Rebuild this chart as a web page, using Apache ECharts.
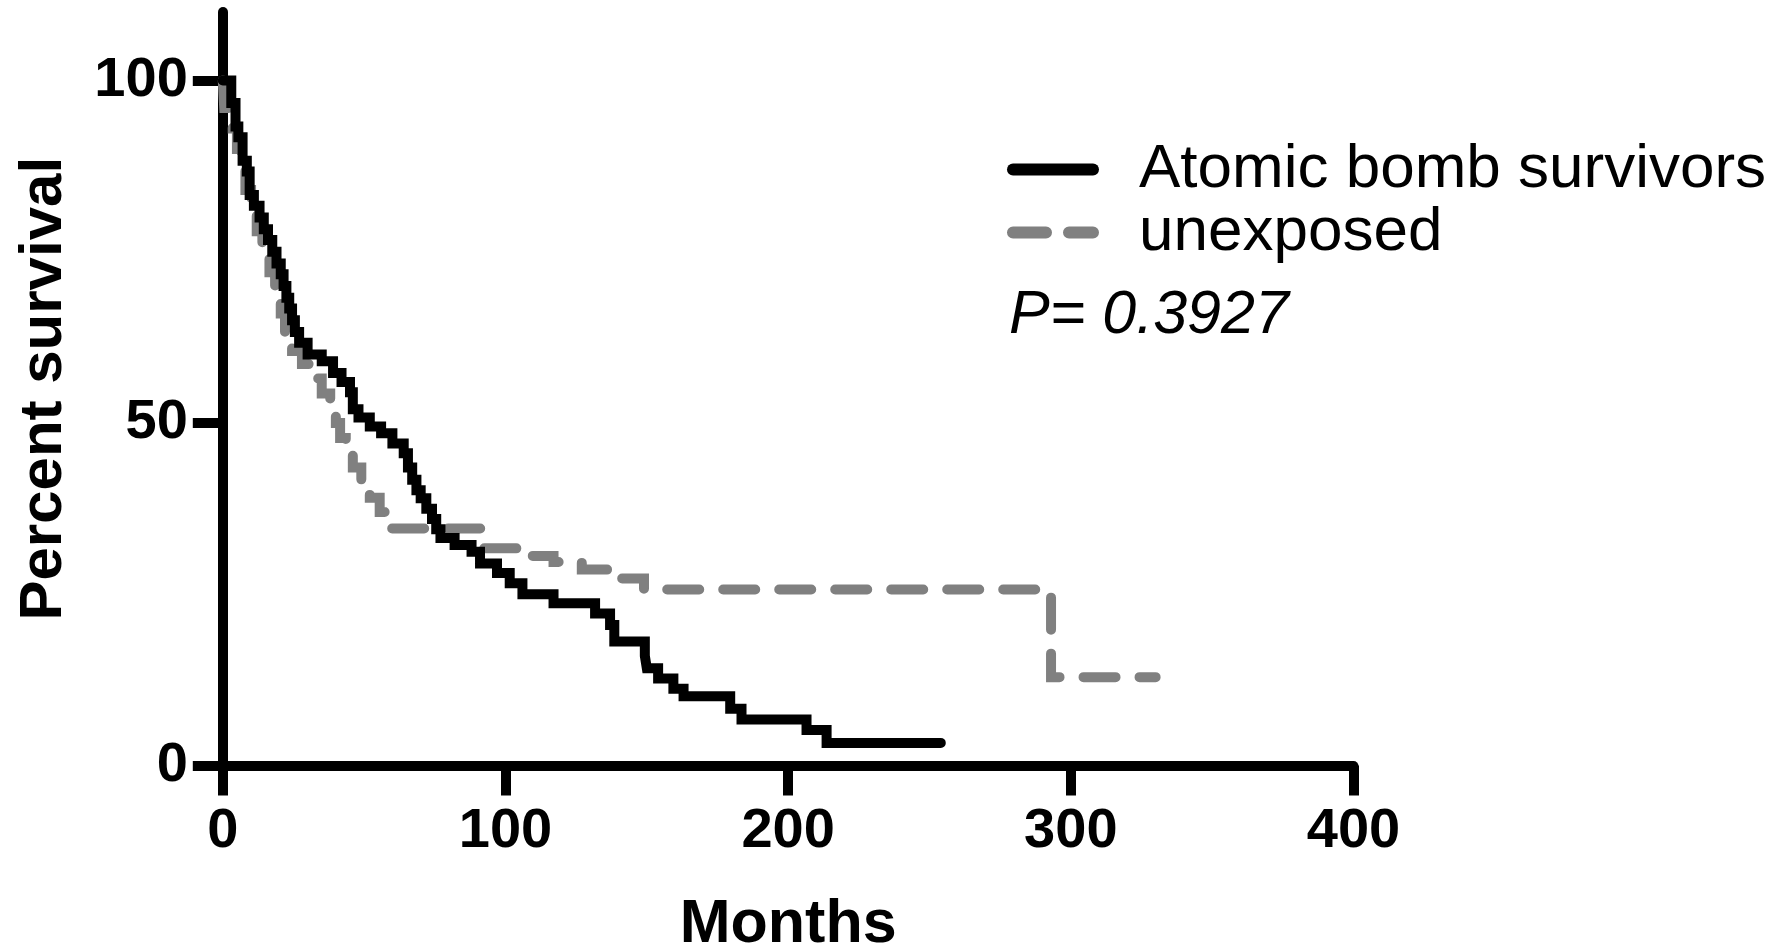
<!DOCTYPE html>
<html>
<head>
<meta charset="utf-8">
<title>Survival by exposure</title>
<script src="https://cdn.jsdelivr.net/npm/echarts@6/dist/echarts.min.js"></script>
<style>
  html, body { margin: 0; padding: 0; background: #ffffff; }
  #chart { width: 1773px; height: 952px; }
</style>
</head>
<body>
<div id="chart"></div>
<script>
// Kaplan-Meier estimates: month of each drop and percent surviving after it
const survivorMonths = [0, 3, 4.5, 5.5, 7, 8.5, 9.5, 11, 13, 14.5, 16, 17.5, 19, 20.5, 21.5, 22.5, 23.5, 24.5, 25.5, 27, 30, 35, 39, 42, 45, 46, 48, 52, 56, 60, 64, 65.5, 67, 68.5, 70, 72, 74, 75.5, 77, 82, 88, 91, 97, 101.5, 106, 117, 131.7, 137, 138.5, 149.3, 150, 154, 159.4, 163, 179.5, 183.5, 206.5, 213.6, 254];
const survivorPercent = [100, 96.7, 93.3, 91.7, 88.3, 86.7, 83.3, 81.7, 80, 78.3, 76.7, 75, 73.3, 71.7, 70, 68.3, 66.7, 65, 63.3, 61.7, 60, 59, 57.3, 56, 54.5, 52, 50.8, 49.5, 48.5, 47, 45.6, 43.5, 41.7, 40.2, 39, 37.5, 36, 34.5, 33.2, 32.2, 31.2, 29.5, 28.1, 26.6, 25, 23.7, 22.2, 20.5, 18.1, 16, 14.2, 12.7, 11.2, 10.1, 8.3, 6.7, 5.2, 3.3, 3.3];

const unexposedMonths = [0, 0.5, 3.5, 5, 6.5, 8, 10, 12, 14, 16.5, 18.5, 20.5, 22, 24.5, 28, 32, 35, 38, 40, 41.5, 43.5, 46, 49, 52, 55.5, 59, 92, 106, 117, 127, 137, 149, 293, 330];
const unexposedPercent = [100, 96, 93, 90, 87, 84, 81, 78, 75, 72, 69, 66, 63, 60.5, 58.6, 56.5, 54.3, 52.2, 50, 47.8, 45.6, 43.5, 41.3, 39.1, 37, 34.6, 31.7, 30.6, 29.7, 28.6, 27.3, 25.7, 12.9, 12.9];

const seriesNames = ['Atomic bomb survivors', 'unexposed'];
const yTickValues = [0, 50, 100];
const pValueText = 'P= 0.3927';

const FONT = '"Liberation Sans", Arial, Helvetica, sans-serif';

// Legend swatches: a solid rounded bar and two rounded dashes
const SOLID_ICON = 'path://M6,0 H86 A6,6 0 0 1 86,12 H6 A6,6 0 0 1 6,0 Z';
const DASHED_ICON = 'path://M6,0 H39 A6,6 0 0 1 39,12 H6 A6,6 0 0 1 6,0 Z M62,0 H86 A6,6 0 0 1 86,12 H62 A6,6 0 0 1 62,0 Z';

const toPairs = (xs, ys) => xs.map((x, i) => [x, ys[i]]);

const chart = echarts.init(document.getElementById('chart'), null, { renderer: 'canvas' });

chart.setOption({
  backgroundColor: '#ffffff',
  animation: false,
  grid: {
    left: 222.8,
    right: 419.5,
    top: 12,
    bottom: 186.5,
    containLabel: false,
    outerBoundsMode: 'none'
  },
  xAxis: {
    type: 'value',
    min: 0,
    max: 400,
    interval: 100,
    name: 'Months',
    nameLocation: 'middle',
    nameGap: 129,
    nameTextStyle: { fontFamily: FONT, fontWeight: 'bold', fontSize: 61, color: '#000' },
    axisLine: { show: true, onZero: false, lineStyle: { color: '#000', width: 10 } },
    axisTick: { show: true, length: 30, lineStyle: { color: '#000', width: 10 } },
    axisLabel: { margin: 38, fontFamily: FONT, fontWeight: 'bold', fontSize: 56, color: '#000' },
    splitLine: { show: false }
  },
  yAxis: {
    type: 'value',
    min: 0,
    max: 110,
    name: 'Percent survival',
    nameLocation: 'middle',
    nameGap: 148,
    nameTextStyle: { fontFamily: FONT, fontWeight: 'bold', fontSize: 60, color: '#000' },
    axisLine: { show: true, onZero: false, lineStyle: { color: '#000', width: 10 } },
    axisTick: { show: true, length: 30, customValues: yTickValues, lineStyle: { color: '#000', width: 10 } },
    axisLabel: { margin: 35, customValues: yTickValues, fontFamily: FONT, fontWeight: 'bold', fontSize: 56, color: '#000' },
    splitLine: { show: false }
  },
  legend: {
    orient: 'vertical',
    left: 1002,
    top: 133,
    data: [
      { name: seriesNames[0], icon: SOLID_ICON },
      { name: seriesNames[1], icon: DASHED_ICON }
    ],
    itemWidth: 92,
    itemHeight: 12,
    itemGap: 0,
    selectedMode: false,
    textStyle: { fontFamily: FONT, fontSize: 62, color: '#000', lineHeight: 63, padding: [0, 0, 0, 35] }
  },
  graphic: [{
    type: 'text',
    x: 1009,
    y: 316,
    style: {
      text: pValueText,
      font: 'italic 61px ' + FONT,
      fill: '#000',
      verticalAlign: 'middle'
    }
  }],
  series: [
    {
      name: seriesNames[1],
      type: 'line',
      step: 'end',
      showSymbol: false,
      symbol: 'none',
      data: toPairs(unexposedMonths, unexposedPercent),
      lineStyle: { color: '#808080', width: 10, type: [32, 24], cap: 'round', join: 'miter' },
      itemStyle: { color: '#808080' },
      z: 2
    },
    {
      name: seriesNames[0],
      type: 'line',
      step: 'end',
      showSymbol: false,
      symbol: 'none',
      data: toPairs(survivorMonths, survivorPercent),
      lineStyle: { color: '#000000', width: 10, cap: 'round', join: 'miter' },
      itemStyle: { color: '#000000' },
      z: 3
    }
  ]
});
</script>
</body>
</html>
